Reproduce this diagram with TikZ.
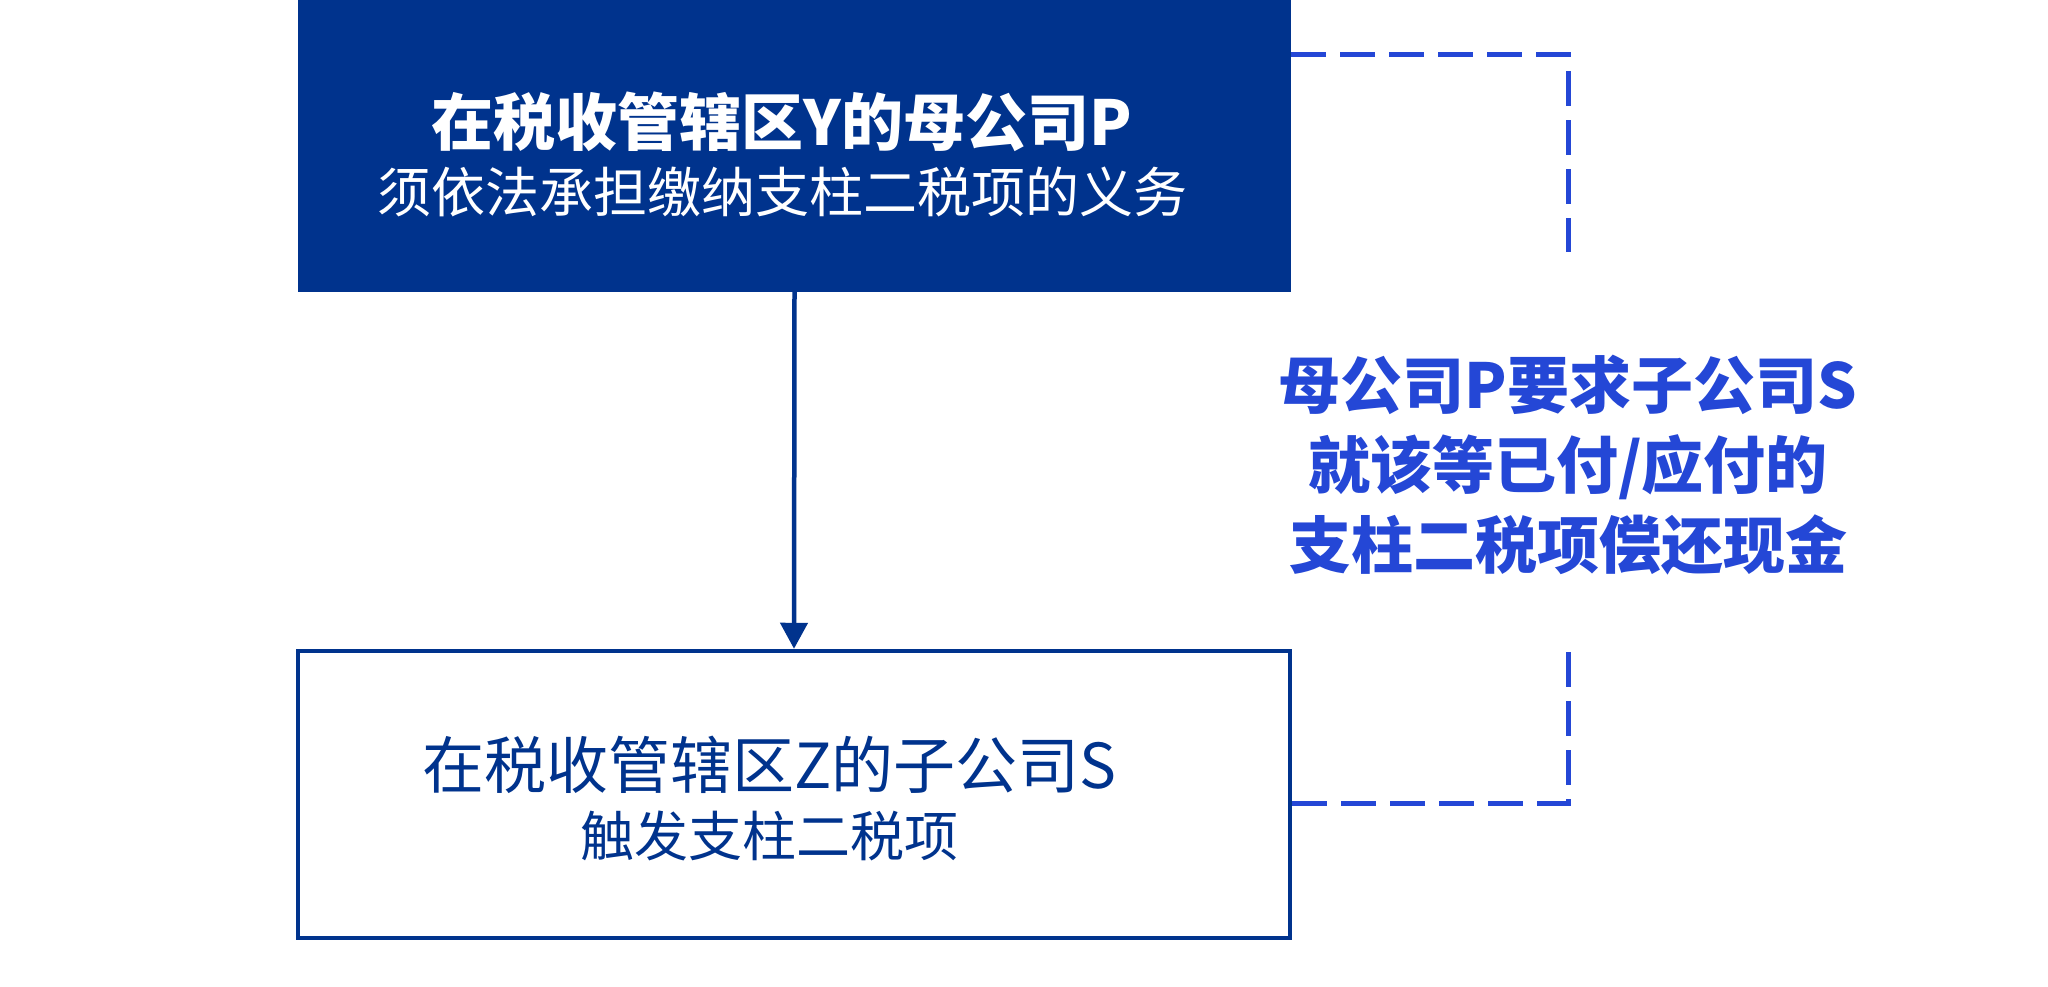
\documentclass[tikz,border=0pt]{standalone}
\usepackage{fontspec}
\setmainfont{Noto Sans CJK SC}
\usetikzlibrary{arrows.meta}
\definecolor{navy}{RGB}{0,51,141}
\definecolor{brightblue}{RGB}{36,71,214}
\tikzset{
  x=1pt, y=-1pt,
  pboxstyle/.style={rectangle, fill=navy, inner sep=0pt, minimum width=993pt, minimum height=292pt},
  sboxstyle/.style={rectangle, draw=navy, line width=4.5pt, fill=white, inner sep=0pt, minimum width=992pt, minimum height=287pt},
  titlebold/.style={inner sep=0pt, font=\fontsize{62}{72}\selectfont\bfseries},
  subtext/.style={inner sep=0pt, font=\fontsize{54}{64}\selectfont},
  maintext/.style={inner sep=0pt, font=\fontsize{62}{72}\selectfont},
  labeltext/.style={inner sep=0pt, align=center, text=brightblue, font=\fontsize{62}{80}\selectfont\bfseries},
  dashline/.style={draw=brightblue, line width=5pt, dash pattern=on 35pt off 14pt},
  mainarrow/.style={draw=navy, line width=4.5pt, -{Triangle[length=26pt,width=27pt]}}
}
\begin{document}
\begin{tikzpicture}
\useasboundingbox[fill=white] (0,0) rectangle (2048,986);
% boxes
\node[pboxstyle] (pbox) at (794.5,146) {};
\node[sboxstyle] (sbox) at (794,794.5) {};
% texts
\node[titlebold, text=white] (ptitle) at (781.5,122) {在税收管辖区Y的母公司P};
\node[subtext, text=white] (psub) at (782.5,192) {须依法承担缴纳支柱二税项的义务};
\node[maintext, text=navy] (stitle) at (769.5,765) {在税收管辖区Z的子公司S};
\node[subtext, text=navy] (ssub) at (769,836) {触发支柱二税项};
% arrow
\draw[mainarrow] (pbox.south) -- (sbox.north);
% dashed connector
\coordinate (d1) at (1568,54);
\coordinate (d2) at (1568,252);
\coordinate (d3) at (1568,638);
\coordinate (d4) at (1568,803);
\draw[dashline] (pbox.east |- d1) -- (d1) -- (d2);
\draw[dashline] (sbox.east |- d4) -- (d4) -- (d3);
% label
\node[labeltext] (lbl) at (1568,465) {母公司P要求子公司S\\就该等已付/应付的\\支柱二税项偿还现金};
\end{tikzpicture}
\end{document}
